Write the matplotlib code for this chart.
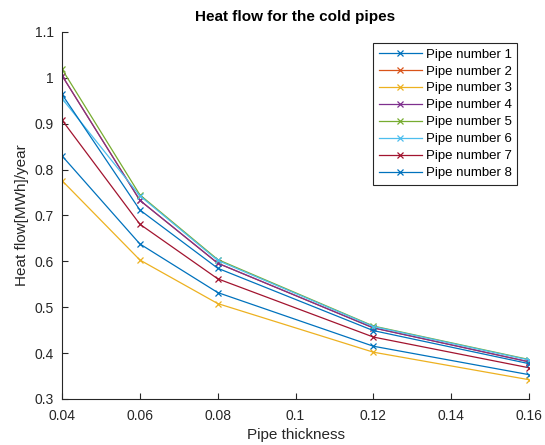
import numpy as np
import matplotlib
matplotlib.use('Agg')
import matplotlib.pyplot as plt
from matplotlib.ticker import FuncFormatter

plt.rcParams['font.family'] = ['Liberation Sans', 'DejaVu Sans']

# Pipe thickness (x) and heat flow per pipe (MWh/year)
thickness = [0.04, 0.06, 0.08, 0.12, 0.16]
pipe_labels = ['Pipe number %d' % i for i in range(1, 9)]
pipe1 = [0.830, 0.638, 0.532, 0.415, 0.353]
pipe2 = [1.005, 0.733, 0.596, 0.455, 0.381]
pipe3 = [0.776, 0.603, 0.508, 0.402, 0.342]
pipe4 = [1.005, 0.733, 0.596, 0.455, 0.381]
pipe5 = [1.019, 0.745, 0.604, 0.459, 0.386]
pipe6 = [0.955, 0.743, 0.602, 0.458, 0.385]
pipe7 = [0.908, 0.681, 0.562, 0.435, 0.368]
pipe8 = [0.964, 0.712, 0.585, 0.449, 0.377]
series = [pipe1, pipe2, pipe3, pipe4, pipe5, pipe6, pipe7, pipe8]

colors = ['#0072BD', '#D95319', '#EDB120', '#7E2F8E',
          '#77AC30', '#4DBEEE', '#A2142F', '#0072BD']

fig = plt.figure(figsize=(5.45, 4.45), dpi=100)
ax = fig.add_axes([0.1138, 0.1034, 0.857, 0.8247])

for vals, lab, col in zip(series, pipe_labels, colors):
    ax.plot(thickness, vals, color=col, marker='x', markersize=5,
            linewidth=0.9, markeredgewidth=0.9, label=lab)

ax.set_xlim(0.04, 0.16)
ax.set_ylim(0.3, 1.1)
ax.set_xticks([0.04, 0.06, 0.08, 0.10, 0.12, 0.14, 0.16])
ax.set_yticks(np.round(np.arange(0.3, 1.11, 0.1), 1))
fmt = FuncFormatter(lambda v, p: '%g' % round(v, 3))
ax.xaxis.set_major_formatter(fmt)
ax.yaxis.set_major_formatter(fmt)

for s in ['top', 'right']:
    ax.spines[s].set_visible(False)
for s in ['left', 'bottom']:
    ax.spines[s].set_color('#262626')
    ax.spines[s].set_linewidth(0.8)
ax.tick_params(direction='in', length=4, width=0.8, colors='#262626',
               labelsize=10, labelcolor='#262626')
ax.tick_params(axis='x', pad=7)
ax.tick_params(axis='y', pad=6)

ax.set_title('Heat flow for the cold pipes', fontsize=11, fontweight='bold', pad=8)
ax.set_xlabel('Pipe thickness', fontsize=11, color='#262626', labelpad=4)
ax.set_ylabel('Heat flow[MWh]/year', fontsize=11, color='#262626', labelpad=4)

leg = ax.legend(loc='upper right', bbox_to_anchor=(0.975, 0.97),
                fontsize=9.5, borderaxespad=0, labelspacing=0.36,
                handlelength=3.3, handletextpad=0.3, borderpad=0.4,
                fancybox=False, framealpha=1)
leg.get_frame().set_edgecolor('#262626')
leg.get_frame().set_linewidth(0.8)

fig.savefig('out.png', dpi=100)
